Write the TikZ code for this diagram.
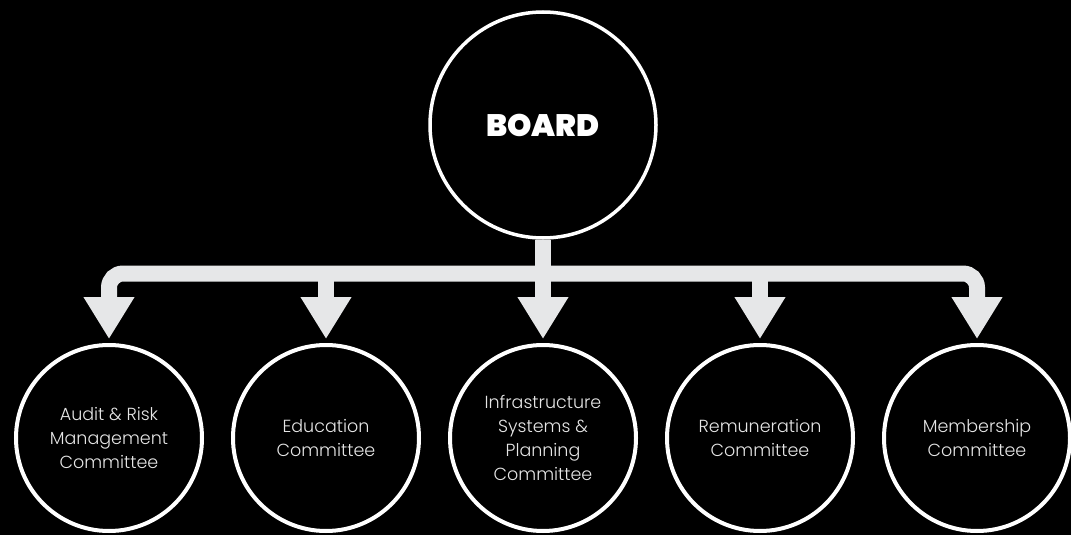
\documentclass[tikz,border=0pt]{standalone}
\usepackage{fontspec}
\setmainfont{Poppins}[UprightFont=* Light, BoldFont=* Black]
\usetikzlibrary{arrows.meta}
\definecolor{linegray}{HTML}{E6E7E8}
\definecolor{txtgray}{HTML}{E6E6E6}
\tikzset{
  boardnode/.style={circle, draw=white, line width=3.5pt, fill=black, minimum size=226pt, inner sep=0pt,
    text=white, font=\bfseries\fontsize{31}{34}\selectfont},
  comnode/.style={circle, draw=white, line width=4pt, fill=black, minimum size=186pt, inner sep=0pt,
    text=txtgray, align=center, font=\fontsize{17.5}{24}\selectfont},
  conn/.style={draw=linegray, line width=16pt},
  tipconn/.style={conn, shorten >=4pt, -{Triangle[length=42pt,width=48pt]}},
}
\begin{document}
\begin{tikzpicture}[x=1pt,y=-1pt]
\fill[black] (0,0) rectangle (1071,535);
\useasboundingbox (0,0) rectangle (1071,535);
\node[boardnode] (board) at (543,125) {BOARD};
\node[comnode] (c1) at (109,438) {Audit \& Risk\\Management\\Committee};
\node[comnode] (c2) at (326,438) {Education\\Committee};
\node[comnode] (c3) at (543,438) {Infrastructure\\Systems \&\\Planning\\Committee};
\node[comnode] (c4) at (760,438) {Remuneration\\Committee};
\node[comnode] (c5) at (977,438) {Membership\\Committee};
\coordinate (bar) at (543,273.5);
\draw[conn] (board.south) -- (bar);
\draw[tipconn, rounded corners=14pt] (bar) -| (c1.north);
\draw[tipconn, rounded corners=14pt] (bar) -| (c5.north);
\draw[tipconn] (c2.north |- bar) -- (c2.north);
\draw[tipconn] (bar) -- (c3.north);
\draw[tipconn] (c4.north |- bar) -- (c4.north);
\end{tikzpicture}
\end{document}
